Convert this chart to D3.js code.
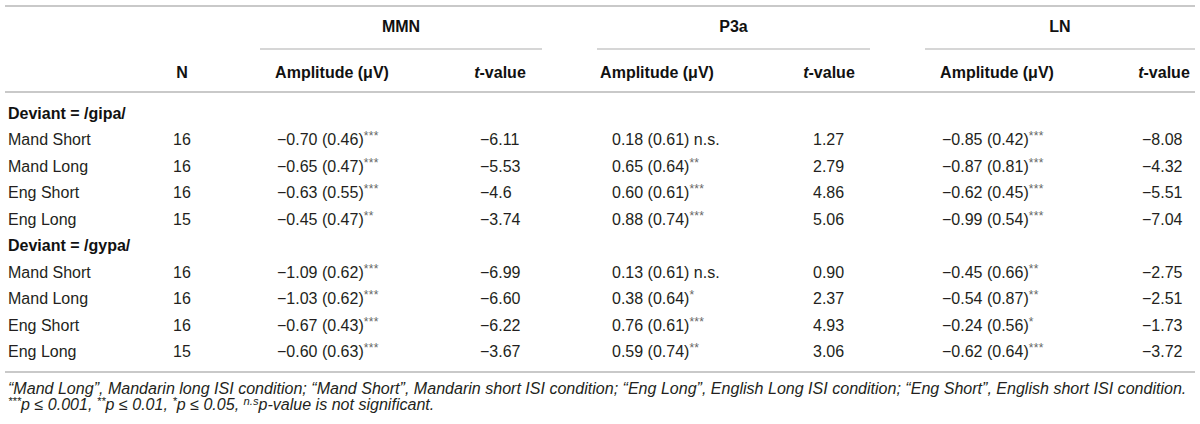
<!DOCTYPE html>
<html>
<head>
<meta charset="utf-8">
<script src="https://d3js.org/d3.v7.min.js"></script>
<style>
  body { margin: 0; background: #fff; }
  svg { display: block; font-family: "Liberation Sans", Arial, sans-serif; }
  .cell { font-size: 16px; fill: #231f20; }
  .head { font-size: 16px; font-weight: bold; fill: #111; }
  .rule { stroke: #c9c9c9; }
  .note { font-size: 14.5px; font-style: italic; fill: #231f20; }
</style>
</head>
<body>
<div id="chart"></div>
<script>
// ---- data ----
var measures = ["MMN", "P3a", "LN"];
var conditions = ["Mand Short", "Mand Long", "Eng Short", "Eng Long"];
var deviants = ["Deviant = /gipa/", "Deviant = /gypa/"];

var nGipa = ["16", "16", "16", "15"];
var nGypa = ["16", "16", "16", "15"];

// amplitude mean, (sd), significance; t-value  -- deviant /gipa/
var mmnAmpGipa = ["\u22120.70", "\u22120.65", "\u22120.63", "\u22120.45"];
var mmnSdGipa = ["0.46", "0.47", "0.55", "0.47"];
var mmnSigGipa = ["***", "***", "***", "**"];
var mmnTGipa = ["\u22126.11", "\u22125.53", "\u22124.6", "\u22123.74"];

var p3aAmpGipa = ["0.18", "0.65", "0.60", "0.88"];
var p3aSdGipa = ["0.61", "0.64", "0.61", "0.74"];
var p3aSigGipa = ["n.s.", "**", "***", "***"];
var p3aTGipa = ["1.27", "2.79", "4.86", "5.06"];

var lnAmpGipa = ["\u22120.85", "\u22120.87", "\u22120.62", "\u22120.99"];
var lnSdGipa = ["0.42", "0.81", "0.45", "0.54"];
var lnSigGipa = ["***", "***", "***", "***"];
var lnTGipa = ["\u22128.08", "\u22124.32", "\u22125.51", "\u22127.04"];

// deviant /gypa/
var mmnAmpGypa = ["\u22121.09", "\u22121.03", "\u22120.67", "\u22120.60"];
var mmnSdGypa = ["0.62", "0.62", "0.43", "0.63"];
var mmnSigGypa = ["***", "***", "***", "***"];
var mmnTGypa = ["\u22126.99", "\u22126.60", "\u22126.22", "\u22123.67"];

var p3aAmpGypa = ["0.13", "0.38", "0.76", "0.59"];
var p3aSdGypa = ["0.61", "0.64", "0.61", "0.74"];
var p3aSigGypa = ["n.s.", "*", "***", "**"];
var p3aTGypa = ["0.90", "2.37", "4.93", "3.06"];

var lnAmpGypa = ["\u22120.45", "\u22120.54", "\u22120.24", "\u22120.62"];
var lnSdGypa = ["0.66", "0.87", "0.56", "0.64"];
var lnSigGypa = ["**", "**", "*", "***"];
var lnTGypa = ["\u22122.75", "\u22122.51", "\u22121.73", "\u22123.72"];

var subHeads = ["Amplitude (\u03bcV)", "t-value"];
var noteLine1 = "\u201cMand Long\u201d, Mandarin long ISI condition; \u201cMand Short\u201d, Mandarin short ISI condition; \u201cEng Long\u201d, English Long ISI condition; \u201cEng Short\u201d, English short ISI condition.";
var noteSigs = [["***", "p \u2264 0.001, "], ["**", "p \u2264 0.01, "], ["*", "p \u2264 0.05, "], ["n.s", "p-value is not significant."]];

// ---- build rows ----
var blocks = [
  {label: deviants[0], n: nGipa,
   amp: [mmnAmpGipa, p3aAmpGipa, lnAmpGipa], sd: [mmnSdGipa, p3aSdGipa, lnSdGipa],
   sig: [mmnSigGipa, p3aSigGipa, lnSigGipa], t: [mmnTGipa, p3aTGipa, lnTGipa]},
  {label: deviants[1], n: nGypa,
   amp: [mmnAmpGypa, p3aAmpGypa, lnAmpGypa], sd: [mmnSdGypa, p3aSdGypa, lnSdGypa],
   sig: [mmnSigGypa, p3aSigGypa, lnSigGypa], t: [mmnTGypa, p3aTGypa, lnTGypa]}
];

var rows = [];
blocks.forEach(function(b, bi) {
  rows.push({key: "h" + bi, group: true, label: b.label});
  conditions.forEach(function(c, i) {
    rows.push({
      key: "r" + bi + "_" + i, group: false, label: c, n: b.n[i],
      cells: measures.map(function(m, mi) {
        return {amp: b.amp[mi][i], sd: b.sd[mi][i], sig: b.sig[mi][i], t: b.t[mi][i]};
      })
    });
  });
});

// ---- layout ----
var width = 1200, height = 424;
var svg = d3.select("#chart").append("svg").attr("width", width).attr("height", height);

var y = d3.scalePoint().domain(rows.map(function(d) { return d.key; })).range([113, 351.5]);

// column geometry per measure group
var groupLine = d3.scaleOrdinal().domain(measures).range([[260, 542], [597, 870], [925, 1195]]);
var ampHeadX = d3.scaleOrdinal().domain(measures).range([332, 657, 997]);
var ampX = d3.scaleOrdinal().domain(measures).range([277, 603, 942]);
var tHeadX = d3.scaleOrdinal().domain(measures).range([500, 829, 1164]);
var tX = d3.scaleOrdinal().domain(measures).range([480, 804, 1142]);
var nX = 182, labelX = 8;

// rules
function rule(x1, x2, yy, w) {
  svg.append("line").attr("class", "rule")
    .attr("x1", x1).attr("x2", x2).attr("y1", yy).attr("y2", yy)
    .attr("stroke-width", w);
}
rule(5, 1195, 6, 2);
rule(5, 1195, 92, 2);
rule(5, 1195, 372, 2);
measures.forEach(function(m) {
  var g = groupLine(m);
  rule(g[0], g[1], 49, 1.5);
});

// header
svg.selectAll("text.mhead").data(measures).enter().append("text")
  .attr("class", "head mhead")
  .attr("x", function(d) { var g = groupLine(d); return (g[0] + g[1]) / 2; })
  .attr("y", 32).attr("text-anchor", "middle")
  .text(function(d) { return d; });

svg.append("text").attr("class", "head").attr("x", nX).attr("y", 78)
  .attr("text-anchor", "middle").text("N");

measures.forEach(function(m) {
  svg.append("text").attr("class", "head").attr("x", ampHeadX(m)).attr("y", 78)
    .attr("text-anchor", "middle").text(subHeads[0]);
  var th = svg.append("text").attr("class", "head").attr("x", tHeadX(m)).attr("y", 78)
    .attr("text-anchor", "middle");
  th.append("tspan").attr("font-style", "italic").text(subHeads[1].slice(0, 1));
  th.append("tspan").text(subHeads[1].slice(1));
});

// body
var row = svg.selectAll("g.row").data(rows).enter().append("g")
  .attr("class", "row")
  .attr("transform", function(d) { return "translate(0," + (y(d.key) + 5.5) + ")"; });

row.append("text")
  .attr("class", function(d) { return d.group ? "head" : "cell"; })
  .attr("x", labelX)
  .text(function(d) { return d.label; });

var dataRows = row.filter(function(d) { return !d.group; });

dataRows.append("text").attr("class", "cell").attr("x", nX).attr("text-anchor", "middle")
  .text(function(d) { return d.n; });

measures.forEach(function(m, mi) {
  var amp = dataRows.append("text").attr("class", "cell")
    .attr("x", function(d) {
      var v = d.cells[mi].amp;
      // positive values start where the digits of negative ones do
      return v.charAt(0) === "\u2212" ? ampX(m) : ampX(m) + 9;
    });
  amp.append("tspan").text(function(d) { return d.cells[mi].amp + " (" + d.cells[mi].sd + ")"; });
  amp.each(function(d) {
    var s = d.cells[mi].sig;
    if (s === "n.s.") {
      d3.select(this).append("tspan").text(" " + s);
    } else {
      d3.select(this).append("tspan").attr("dy", -5).attr("font-size", "12px")
        .attr("fill", "#666").attr("letter-spacing", "0.3px").text(s);
    }
  });

  dataRows.append("text").attr("class", "cell")
    .attr("x", function(d) {
      var v = d.cells[mi].t;
      return v.charAt(0) === "\u2212" ? tX(m) : tX(m) + 9;
    })
    .text(function(d) { return d.cells[mi].t; });
});

// footnotes
var n1 = svg.append("text").attr("class", "note").attr("x", labelX).attr("y", 394).text(noteLine1);
var target = 1179;
var fs = 14.5 * target / n1.node().getComputedTextLength();
n1.style("font-size", fs + "px");

var n2 = svg.append("text").attr("class", "note").attr("x", labelX).attr("y", 410)
  .style("font-size", fs + "px");
noteSigs.forEach(function(p) {
  n2.append("tspan").attr("dy", -5).attr("font-size", (fs * 0.7) + "px").text(p[0]);
  n2.append("tspan").attr("dy", 5).text(p[1]);
});
</script>
</body>
</html>
